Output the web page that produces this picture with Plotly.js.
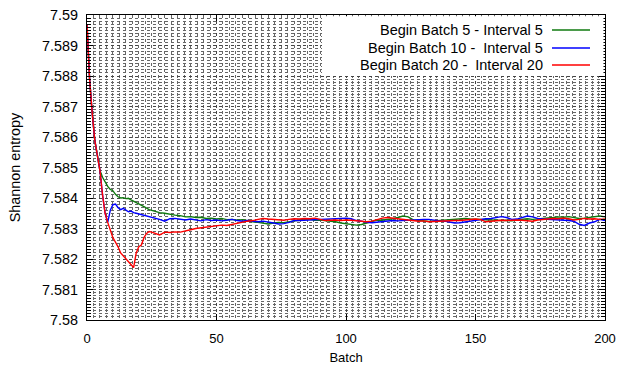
<!DOCTYPE html>
<html>
<head>
<meta charset="utf-8">
<script src="https://cdn.plot.ly/plotly-3.0.1.min.js"></script>
<style>html,body{margin:0;padding:0;background:#fff}#chart{width:617px;height:366px}</style>
</head>
<body>
<div id="chart"></div>
<script>
const seriesNames = ["Begin Batch 5 - Interval 5", "Begin Batch 10 -\u00a0 Interval 5", "Begin Batch 20 -\u00a0 Interval 20"];

const greenX = [0,1,2,3,4,5,6,7,8,9,10,11,12,13,14,15,16,17,18,19,20,
22,24,26,28,30,32,34,36,38,40,42,44,46,48,50,52,54,56,58,60,62,64,66,68,70,72,74,76,78,80,
82,84,86,88,90,92,94,96,98,100,102,104,106,108,110,112,114,116,118,120,122,124,126,128,130,
132,134,136,138,140,142,144,146,148,150,152,154,156,158,160,162,164,166,168,170,172,174,176,178,180,
182,184,186,188,190,192,194,196,198,200];
const greenY = [7.5897,7.5879,7.5868,7.5859,7.5854,7.5849,7.58468,7.58452,7.58438,7.58428,7.58424,7.58412,7.58404,7.58400,7.58401,7.58398,7.58399,7.58394,7.58390,7.58386,7.58382,
7.58372,7.58362,7.58356,7.58352,7.58350,7.58346,7.58344,7.58342,7.58338,7.58339,7.58336,7.58337,7.58333,7.58334,7.58331,7.58333,7.58329,7.58330,7.58327,7.58329,7.58325,7.58322,7.58320,7.58317,7.58315,7.58318,7.58320,7.58319,7.58323,7.58325,
7.58327,7.58331,7.58330,7.58327,7.58328,7.58326,7.58326,7.58322,7.58318,7.58315,7.58312,7.58311,7.58313,7.58318,7.58325,7.58328,7.58327,7.58329,7.58332,7.58336,7.58341,7.58338,7.58328,7.58327,7.58326,
7.58323,7.58325,7.58326,7.58327,7.58328,7.58329,7.58331,7.58333,7.58331,7.58330,7.58329,7.58328,7.58327,7.58326,7.58326,7.58327,7.58325,7.58328,7.58330,7.58332,7.58330,7.58331,7.58333,7.58334,7.58336,
7.58338,7.58337,7.58339,7.58335,7.58333,7.58334,7.58336,7.58339,7.58341,7.58338];

const blueX = [0,1,2,3,4,5,6,7,8,9,10,11,12,13,14,15,16,17,18,19,20,
22,24,26,28,30,32,34,36,38,40,42,44,46,48,50,52,54,56,58,60,62,64,66,68,70,72,74,76,78,80,
82,84,86,88,90,92,94,96,98,100,102,104,106,108,110,112,114,116,118,120,122,124,126,128,130,
132,134,136,138,140,142,144,146,148,150,152,154,156,158,160,162,164,166,168,170,172,174,176,178,180,
182,184,186,188,190,192,194,196,198,200];
const blueY = [7.5897,7.5879,7.5868,7.5859,7.5854,7.5849,7.5841,7.5835,7.5832,7.58360,7.58378,7.58380,7.58368,7.58362,7.58366,7.58360,7.58355,7.58357,7.58352,7.58350,7.58348,
7.58344,7.58340,7.58336,7.58330,7.58324,7.58332,7.58333,7.58330,7.58328,7.58331,7.58327,7.58325,7.58329,7.58326,7.58328,7.58325,7.58327,7.58330,7.58326,7.58324,7.58326,7.58325,7.58322,7.58324,7.58322,7.58318,7.58315,7.58316,7.58320,7.58326,
7.58326,7.58327,7.58328,7.58329,7.58328,7.58330,7.58330,7.58331,7.58332,7.58334,7.58332,7.58326,7.58324,7.58320,7.58319,7.58321,7.58322,7.58324,7.58326,7.58325,7.58326,7.58328,7.58330,7.58329,7.58330,
7.58330,7.58327,7.58325,7.58324,7.58320,7.58318,7.58319,7.58322,7.58325,7.58327,7.58330,7.58332,7.58333,7.58337,7.58339,7.58336,7.58330,7.58331,7.58336,7.58341,7.58338,7.58333,7.58331,7.58330,7.58331,
7.58328,7.58327,7.58326,7.58324,7.58314,7.58310,7.58318,7.58322,7.58330,7.58326];

const redX = [0,1,2,3,4,5,6,7,8,9,10,11,12,13,14,15,16,17,18,19,20,21,22,23,24,25,26,27,28,29,30,
32,34,36,38,40,42,44,46,48,50,52,54,56,58,60,62,64,66,68,70,72,74,76,78,80,
82,84,86,88,90,92,94,96,98,100,102,104,106,108,110,112,114,116,118,120,122,124,126,128,130,
132,134,136,138,140,142,144,146,148,150,152,154,156,158,160,162,164,166,168,170,172,174,176,178,180,
182,184,186,188,190,192,194,196,198,200];
const redY = [7.5897,7.5879,7.5868,7.5859,7.5854,7.5849,7.5841,7.5835,7.5832,7.58295,7.5827,7.58255,7.5824,7.5822,7.5821,7.5820,7.5819,7.5818,7.58172,7.5822,7.5824,7.58246,7.5827,7.58284,7.5829,7.58288,7.58285,7.5828,7.58279,7.58283,7.58288,
7.58287,7.58289,7.58288,7.58291,7.58296,7.58300,7.58302,7.58305,7.58307,7.58309,7.58311,7.58310,7.58314,7.58318,7.58321,7.58324,7.58326,7.58330,7.58333,7.58331,7.58329,7.58328,7.58327,7.58330,7.58332,
7.58331,7.58333,7.58332,7.58334,7.58330,7.58326,7.58327,7.58328,7.58326,7.58328,7.58327,7.58325,7.58323,7.58322,7.58324,7.58330,7.58334,7.58336,7.58334,7.58333,7.58330,7.58327,7.58326,7.58324,7.58325,
7.58322,7.58323,7.58324,7.58326,7.58327,7.58326,7.58326,7.58328,7.58330,7.58331,7.58329,7.58322,7.58324,7.58326,7.58327,7.58326,7.58328,7.58328,7.58327,7.58326,7.58324,7.58328,7.58330,7.58332,7.58333,
7.58332,7.58334,7.58332,7.58328,7.58330,7.58333,7.58331,7.58332,7.58330,7.58331];

const colors = ["#0f7a0f", "#0000ff", "#ff0000"];

const W = 617, H = 366, L = 87, R = 12, T = 15, B = 46;
const pw = W - L - R, ph = H - T - B;
const px = v => (v - L) / pw;
const py = v => (H - B - v) / ph;

const traces = [
  {x: greenX, y: greenY, name: seriesNames[0], type: 'scatter', mode: 'lines', line: {color: colors[0], width: 1.4}},
  {x: blueX, y: blueY, name: seriesNames[1], type: 'scatter', mode: 'lines', line: {color: colors[1], width: 1.4}},
  {x: redX, y: redY, name: seriesNames[2], type: 'scatter', mode: 'lines', line: {color: colors[2], width: 1.4}}
];

const FAM = 'Liberation Sans, Arial, sans-serif';
const xf = {family: FAM, size: 13, color: '#000'};
const yf = {family: FAM, size: 14.4, color: '#000'};

const annotations = [];
const shapes = [
  {type: 'rect', xref: 'paper', yref: 'paper', x0: px(322), x1: 0.997, y0: py(76), y1: 0.996,
   fillcolor: '#fff', line: {width: 0}, layer: 'above'}
];
const rows = [30, 48, 65];
for (let i = 0; i < 3; i++) {
  annotations.push({xref: 'paper', yref: 'paper', x: px(545), y: py(rows[i]), xanchor: 'right', yanchor: 'middle',
    text: seriesNames[i], showarrow: false, font: {family: FAM, size: 14.5, color: '#000'}});
  shapes.push({type: 'line', xref: 'paper', yref: 'paper', x0: px(552), x1: px(590), y0: py(rows[i]), y1: py(rows[i]),
    line: {color: colors[i], width: 1.4}, layer: 'above'});
}

const layout = {
  width: W, height: H,
  margin: {l: L, r: R, t: T, b: B},
  paper_bgcolor: '#fff', plot_bgcolor: '#fff',
  showlegend: false,
  font: xf,
  xaxis: {
    range: [0, 200], dtick: 50, tick0: 0,
    ticks: 'inside', ticklen: 6, tickcolor: '#000', mirror: 'ticks',
    showline: true, linecolor: '#000', linewidth: 1,
    showgrid: true, gridcolor: '#444', griddash: 'dot', gridwidth: 1,
    minor: {dtick: 2.5, showgrid: true, gridcolor: '#666', griddash: 'dot', gridwidth: 1, ticks: ''},
    zeroline: false,
    ticklabelstandoff: 6,
    title: {text: 'Batch', font: xf, standoff: 8},
    tickfont: xf
  },
  xaxis2: {
    overlaying: 'x', range: [0, 200], dtick: 5, tick0: 0,
    ticks: 'inside', ticklen: 4, tickcolor: '#000', mirror: 'ticks',
    showticklabels: false, showgrid: false, zeroline: false, showline: false
  },
  yaxis: {
    range: [7.58, 7.59], dtick: 0.001, tick0: 7.58,
    ticks: 'inside', ticklen: 6, tickcolor: '#000', mirror: 'ticks',
    showline: true, linecolor: '#000', linewidth: 1,
    showgrid: true, gridcolor: '#444', griddash: 'dot', gridwidth: 1,
    minor: {dtick: 0.0001, showgrid: true, gridcolor: '#666', griddash: 'dot', gridwidth: 1, ticks: 'inside', ticklen: 4, tickcolor: '#000'},
    zeroline: false,
    ticklabelstandoff: 5,
    title: {text: 'Shannon entropy', font: yf, standoff: 18},
    tickfont: yf
  },
  annotations: annotations,
  shapes: shapes
};

Plotly.newPlot('chart', traces, layout, {displayModeBar: false, staticPlot: true});
</script>
</body>
</html>
